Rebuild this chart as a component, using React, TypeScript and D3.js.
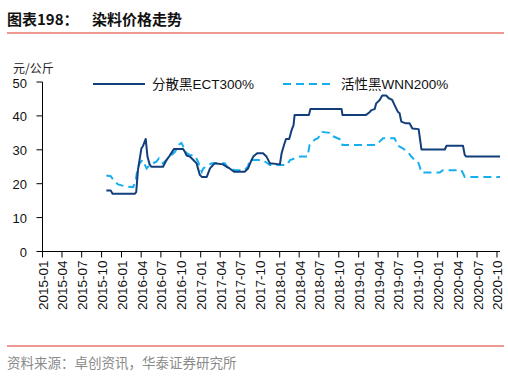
import React from "react";
import * as d3 from "d3";

const W = 508;
const H = 378;

const ectDates = [
  "2015-10-23","2015-11-12","2015-11-21","2016-03-02","2016-03-09","2016-03-17","2016-04-02","2016-04-10","2016-04-22","2016-04-30",
  "2016-05-10","2016-05-18","2016-07-11","2016-07-27","2016-08-11","2016-08-30","2016-10-12","2016-10-20","2016-10-28","2016-11-12",
  "2016-11-28","2016-12-13","2016-12-28","2017-01-06","2017-01-29","2017-02-13","2017-03-06","2017-04-14","2017-04-30","2017-05-15",
  "2017-06-04","2017-07-23","2017-08-08","2017-08-24","2017-09-01","2017-09-19","2017-10-16","2017-11-01","2017-11-17","2018-01-02",
  "2018-01-10","2018-01-21","2018-01-30","2018-02-14","2018-02-25","2018-03-06","2018-03-11","2018-05-16","2018-05-23","2018-10-14",
  "2018-10-18","2019-02-04","2019-02-19","2019-03-01","2019-03-16","2019-03-23","2019-04-08","2019-04-20","2019-05-08","2019-05-20",
  "2019-06-05","2019-06-16","2019-07-01","2019-07-09","2019-07-17","2019-08-06","2019-08-24","2019-09-06","2019-10-05","2019-10-18",
  "2020-02-03","2020-02-11","2020-04-27","2020-05-05","2020-05-12","2020-10-15",
];
const ectValues = [
  18, 18, 17, 17, 17.5, 24, 30.4, 31.2, 33.2, 28,
  25.7, 25, 25, 27, 28.3, 30.2, 30.2, 29.4, 28.3, 28,
  27, 26, 22.6, 22, 22, 24.5, 26, 25.7, 25, 24.5,
  23.5, 23.5, 24.5, 27, 28, 29, 29, 28, 26, 25.7,
  29, 31.4, 33.2, 33.2, 35.8, 37.3, 40.3, 40.3, 42, 42,
  40.3, 40.3, 41, 41.7, 42, 43.7, 44.7, 46, 46, 45.2,
  44.7, 43.2, 41.2, 40.8, 38.3, 37.8, 37.8, 36.3, 36.1, 30.1,
  30.1, 31.2, 31.2, 28.5, 28, 28,
];

const wnnDates = [
  "2015-10-23","2015-11-12","2015-12-01","2015-12-16","2016-01-24","2016-02-24","2016-03-07","2016-03-15","2016-03-25","2016-04-07",
  "2016-04-26","2016-05-10","2016-05-25","2016-06-10","2016-06-22","2016-07-10","2016-07-27","2016-08-11","2016-09-04","2016-09-22",
  "2016-10-04","2016-10-12","2016-10-28","2016-11-12","2016-12-05","2016-12-20","2016-12-28","2017-01-06","2017-01-13","2017-02-06",
  "2017-02-21","2017-04-22","2017-05-07","2017-06-07","2017-07-23","2017-08-07","2017-08-16","2017-10-15","2017-11-17","2018-02-03",
  "2018-02-18","2018-04-04","2018-05-10","2018-05-19","2018-06-12","2018-06-27","2018-07-13","2018-08-20","2018-08-28","2018-10-14",
  "2018-10-18","2019-03-23","2019-04-08","2019-04-23","2019-06-16","2019-07-01","2019-07-24","2019-08-16","2019-09-01","2019-09-17",
  "2019-10-02","2019-10-10","2019-10-18","2020-01-11","2020-01-25","2020-04-20","2020-05-05","2020-10-15",
];
const wnnValues = [
  22.4, 22.2, 20.6, 19.8, 19.1, 19, 21, 24.5, 26, 27,
  24.5, 25.5, 26, 26.5, 27.5, 26, 27, 28, 29.4, 31.5,
  32, 31, 29, 28.5, 28.3, 26.5, 25, 23.5, 24.5, 25.5,
  26, 26, 24.7, 24, 24, 25, 27, 27, 25.5, 25.5,
  27, 28, 28, 31.4, 33, 33.4, 35.3, 35, 34.2, 32.9,
  31.4, 31.4, 32.4, 33.4, 33.4, 31.2, 30.4, 29.4, 28, 27,
  26.5, 25, 23.3, 23.3, 24, 24, 22, 22,
];

const xTickLabels = [
  "2015-01","2015-04","2015-07","2015-10","2016-01","2016-04","2016-07","2016-10",
  "2017-01","2017-04","2017-07","2017-10","2018-01","2018-04","2018-07","2018-10",
  "2019-01","2019-04","2019-07","2019-10","2020-01","2020-04","2020-07","2020-10",
];
const yTicks = [0, 10, 20, 30, 40, 50];

const seriesNames = ["分散黑ECT300%", "活性黑WNN200%"];
const DARK = "#123F7C";
const CYAN = "#15AEEF";
const RED = "#E8776B";
const NUM_FONT = "'Liberation Sans', Arial, 'Noto Sans CJK SC', sans-serif";
const CJK_FONT = "'Noto Sans CJK SC', sans-serif";

export default function App() {
  const parse = d3.timeParse("%Y-%m-%d");
  const parseM = d3.timeParse("%Y-%m");
  const x = d3
    .scaleTime()
    .domain([parse("2015-01-01")!, parse("2020-10-15")!])
    .range([42.5, 500]);
  const y = d3.scaleLinear().domain([0, 50]).range([251.5, 82]);

  const line = d3
    .line<[Date, number]>()
    .x((d) => x(d[0]))
    .y((d) => y(d[1]));

  const ect: [Date, number][] = ectDates.map((d, i) => [parse(d)!, ectValues[i]]);
  const wnn: [Date, number][] = wnnDates.map((d, i) => [parse(d)!, wnnValues[i]]);

  const x0 = x.range()[0];
  const x1 = x.range()[1];
  const yB = y(0);

  return (
    <svg
      width={W}
      height={H}
      style={{ position: "absolute", left: 0, top: 0, background: "#fff" }}
    >
      {/* title */}
      <text x={7} y={25} fontFamily={CJK_FONT} fontWeight="bold" fontSize={15} fill="#111">
        图表198：
      </text>
      <text x={92} y={25} fontFamily={CJK_FONT} fontWeight="bold" fontSize={15} fill="#111">
        染料价格走势
      </text>
      <line x1={7} x2={504} y1={33} y2={33} stroke={RED} strokeWidth={1.5} />

      {/* unit */}
      <text x={13} y={73} fontFamily={CJK_FONT} fontSize={12} fill="#222">
        元/公斤
      </text>

      {/* y axis */}
      <line x1={x0} x2={x0} y1={y(50)} y2={yB} stroke="#000" strokeWidth={1} />
      {yTicks.map((t) => (
        <g key={t}>
          <line x1={x0 - 6} x2={x0} y1={y(t)} y2={y(t)} stroke="#000" strokeWidth={1} />
          <text
            x={27}
            y={y(t) + 1}
            textAnchor="end"
            dominantBaseline="central"
            fontFamily={NUM_FONT}
            fontSize={13}
            fill="#111"
          >
            {t}
          </text>
        </g>
      ))}

      {/* x axis */}
      <line x1={x0} x2={x1} y1={yB} y2={yB} stroke="#000" strokeWidth={1} />
      {xTickLabels.map((lab) => {
        const px = x(parseM(lab)!);
        return (
          <g key={lab}>
            <line x1={px} x2={px} y1={yB} y2={yB + 6} stroke="#000" strokeWidth={1} />
            <text
              transform={`translate(${px + 1},${yB + 9}) rotate(-90)`}
              textAnchor="end"
              dominantBaseline="central"
              fontFamily={NUM_FONT}
              fontSize={13.5}
              fill="#111"
            >
              {lab}
            </text>
          </g>
        );
      })}

      {/* series */}
      <path d={line(wnn)!} fill="none" stroke={CYAN} strokeWidth={2} strokeDasharray="8,5" />
      <path d={line(ect)!} fill="none" stroke={DARK} strokeWidth={2} strokeLinejoin="round" />

      {/* legend */}
      <line x1={93} x2={145} y1={84} y2={84} stroke={DARK} strokeWidth={2.2} />
      <text x={152} y={84} dominantBaseline="central" fontFamily={NUM_FONT} fontSize={13.5} fill="#111">
        {seriesNames[0]}
      </text>
      <line x1={283} x2={333} y1={84} y2={84} stroke={CYAN} strokeWidth={2} strokeDasharray="8,5" />
      <text x={341} y={84} dominantBaseline="central" fontFamily={NUM_FONT} fontSize={13.5} fill="#111">
        {seriesNames[1]}
      </text>

      {/* footer */}
      <line x1={7} x2={504} y1={346} y2={346} stroke={RED} strokeWidth={1.5} />
      <text x={7} y={368} fontFamily={CJK_FONT} fontSize={13.5} fill="#8a8a8a">
        资料来源：卓创资讯，华泰证券研究所
      </text>
    </svg>
  );
}
